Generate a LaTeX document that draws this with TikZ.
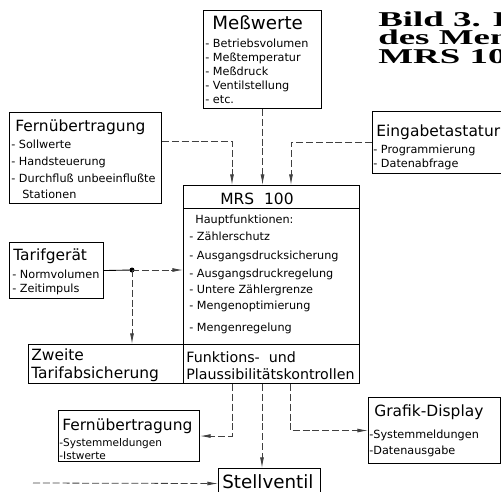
\documentclass[tikz,border=0pt]{standalone}
\usepackage{fontspec}
\setmainfont{DejaVu Sans}
\newfontfamily\bildfont{Liberation Serif}[FakeStretch=1.75]
\usetikzlibrary{arrows.meta}
\newlength{\px}
\setlength{\px}{0.02cm}
\newcommand{\bigtit}{\fontsize{10.4}{12}\selectfont}
\newcommand{\tit}{\fontsize{8.8}{10}\selectfont}
\newcommand{\itm}{\fontsize{6.4}{7.5}\selectfont}

\begin{document}
\begin{tikzpicture}[x=0.02cm,y=-0.02cm,
    box/.style={draw, line width=0.6pt, inner sep=0pt, anchor=north west},
    title/.style={anchor=base west, inner sep=0pt, font=\tit},
    item/.style={anchor=base west, inner sep=0pt, font=\itm},
    capline/.style={anchor=base west, inner sep=0pt, font=\bildfont\bfseries\fontsize{12}{13}\selectfont},
    link/.style={line width=0.45pt, black!75, dash pattern=on 4pt off 1.6pt},
    feed/.style={link, -{Latex[length=6pt,width=2.2pt]}}]
    \useasboundingbox (0,0) rectangle (501,491);
    \node[capline] (cap1) at (378,26) {Bild 3. B};
    \node[capline] (cap2) at (378,44.5) {des Men};
    \node[capline] (cap3) at (378,63) {MRS 100};
    \node[box, minimum width=118\px, minimum height=98\px] (mess) at (203,10) {};
    \node[title, font=\bigtit] (mess-t) at (212,29) {Meßwerte};
    \node[item] (mess-a) at (205,47) {- Betriebsvolumen};
    \node[item] (mess-b) at (205,61) {- Meßtemperatur};
    \node[item] (mess-c) at (205,75) {- Meßdruck};
    \node[item] (mess-d) at (205,89) {- Ventilstellung};
    \node[item] (mess-e) at (205,103) {- etc.};
    \node[box, minimum width=152\px, minimum height=91\px] (fernA) at (9,112) {};
    \node[title] (fernA-t) at (15,131) {Fernübertragung};
    \node[item] (fernA-a) at (11,148) {- Sollwerte};
    \node[item] (fernA-b) at (11,165) {- Handsteuerung};
    \node[item] (fernA-c) at (11,182) {- Durchfluß unbeeinflußte};
    \node[item] (fernA-d) at (22,198) {Stationen};
    \node[box, minimum width=135\px, minimum height=62\px] (eingabe) at (372,111) {};
    \node[title] (eingabe-t) at (376,136) {Eingabetastatur};
    \node[item] (eingabe-a) at (373,153) {- Programmierung};
    \node[item] (eingabe-b) at (373,167) {- Datenabfrage};
    \node[box, minimum width=176\px, minimum height=23\px] (mrshead) at (183,185) {};
    \node[title, anchor=base] (mrshead-t) at (257,204) {MRS\ \ 100};
    \node[box, minimum width=176\px, minimum height=136\px] (mrsmain) at (183,208) {};
    \node[item] (mrsmain-t) at (195,223) {Hauptfunktionen:};
    \node[item] (mrsmain-a) at (189,240) {- Zählerschutz};
    \node[item] (mrsmain-b) at (189,259) {- Ausgangsdrucksicherung};
    \node[item] (mrsmain-c) at (189,277) {- Ausgangsdruckregelung};
    \node[item] (mrsmain-d) at (189,293) {- Untere Zählergrenze};
    \node[item] (mrsmain-e) at (189,309) {- Mengenoptimierung};
    \node[item] (mrsmain-f) at (189,331) {- Mengenregelung};
    \node[box, minimum width=176\px, minimum height=39\px] (mrsctrl) at (183,344) {};
    \node[title, font=\fontsize{8.1}{10}\selectfont] (mrsctrl-a) at (186,362) {Funktions-\ \ und};
    \node[title, font=\fontsize{8.1}{10}\selectfont] (mrsctrl-b) at (186,379) {Plaussibilitätskontrollen};
    \node[box, minimum width=155\px, minimum height=39\px] (zweite) at (28,344) {};
    \node[title] (zweite-a) at (31,360) {Zweite};
    \node[title] (zweite-b) at (31,378) {Tarifabsicherung};
    \node[box, minimum width=94\px, minimum height=56\px] (tarif) at (9,242) {};
    \node[title] (tarif-t) at (13,260) {Tarifgerät};
    \node[item] (tarif-a) at (12,278) {- Normvolumen};
    \node[item] (tarif-b) at (12,292) {- Zeitimpuls};
    \node[box, minimum width=141\px, minimum height=51\px] (fernB) at (58,410) {};
    \node[title] (fernB-t) at (62,430) {Fernübertragung};
    \node[item, font=\fontsize{6}{7}\selectfont] (fernB-a) at (59,446) {-Systemmeldungen};
    \node[item, font=\fontsize{6}{7}\selectfont] (fernB-b) at (59,459) {-Istwerte};
    \node[box, minimum width=132\px, minimum height=66\px] (grafik) at (368,397) {};
    \node[title] (grafik-t) at (374,416) {Grafik-Display};
    \node[item] (grafik-a) at (369,438) {-Systemmeldungen};
    \node[item] (grafik-b) at (369,454) {-Datenausgabe};
    \node[box, minimum width=102\px, minimum height=30\px] (stell) at (218,468) {};
    \node[title, font=\bigtit] (stell-t) at (222,488) {Stellventil};
    \coordinate (ja) at (232,0);
    \coordinate (jb) at (291,0);
    \coordinate (jc) at (262,0);
    \coordinate (jd) at (290,0);
    \coordinate (tdot) at (132,270);
    \coordinate (sfrom) at (33,483);
    \draw[feed] (fernA.east |- 0,141) -| (ja |- mrshead.north);
    \draw[feed] (mess.south) -- (mess.south |- mrshead.north);
    \draw[feed] (eingabe.west) -| (jb |- mrshead.north);
    \draw[line width=0.5pt] (tarif.east) -- (tdot);
    \fill (tdot) circle (2.5);
    \draw[feed] (tdot) -- (tdot -| mrsmain.west);
    \draw[feed] (tdot) -- (tdot |- zweite.north);
    \draw[feed] (jc |- mrsctrl.south) -- (jc |- stell.north);
    \draw[feed] (ja |- mrsctrl.south) |- (fernB.east);
    \draw[feed] (jd |- mrsctrl.south) |- (grafik.west);
    \draw[feed] (sfrom) -- (stell.west);
\end{tikzpicture}
\end{document}
